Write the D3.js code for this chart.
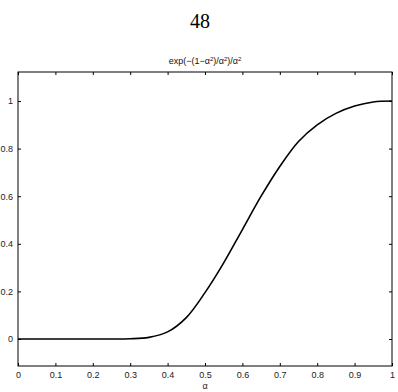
<!DOCTYPE html>
<html>
<head>
<meta charset="utf-8">
<script src="https://cdn.jsdelivr.net/npm/d3@7"></script>
<style>
  html, body { margin: 0; padding: 0; background: #fff; }
  svg { display: block; }
</style>
</head>
<body>
<svg id="chart" width="398" height="392"></svg>
<script>
// curve values
var alphaValues = [0, 0.05, 0.1, 0.15, 0.2, 0.25, 0.3, 0.35, 0.4, 0.45, 0.5, 0.55, 0.6, 0.65, 0.7, 0.75, 0.8, 0.85, 0.9, 0.95, 1];
var curveValues = [0, 0, 0, 0, 0, 0, 0.001, 0.007, 0.03, 0.09, 0.195, 0.32, 0.46, 0.6, 0.725, 0.83, 0.9, 0.948, 0.979, 0.996, 1];
var xTicks = [0, 0.1, 0.2, 0.3, 0.4, 0.5, 0.6, 0.7, 0.8, 0.9, 1];
var yTicks = [0, 0.2, 0.4, 0.6, 0.8, 1];

(function () {
    var svg = d3.select("#chart"),
        plotLeft = 18, plotRight = 392, plotTop = 72, plotBottom = 366;

    var x = d3.scaleLinear().domain([0, 1]).range([plotLeft, plotRight]);
    var y = d3.scaleLinear().domain([-0.1134, 1.1218]).range([plotBottom, plotTop]);

    var tickFont = "'Liberation Sans', Arial, sans-serif";
    var numFormat = function (d) { return d === 0 || d === 1 ? d3.format("d")(d) : d3.format(".1f")(d); };

    // page number
    svg.append("text")
        .attr("x", 200).attr("y", 28)
        .attr("text-anchor", "middle")
        .style("font-family", "'Liberation Serif', 'DejaVu Serif', serif")
        .style("font-size", "20px")
        .text("48");

    // title
    var title = svg.append("text")
        .attr("x", (plotLeft + plotRight) / 2).attr("y", 64)
        .attr("text-anchor", "middle")
        .style("font-family", tickFont)
        .style("font-size", "9px")
        .attr("fill", "#111");
    title.append("tspan").text("exp(\u2212(1\u2212\u03b1");
    title.append("tspan").attr("dy", -3.5).style("font-size", "6px").text("2");
    title.append("tspan").attr("dy", 3.5).text(")/\u03b1");
    title.append("tspan").attr("dy", -3.5).style("font-size", "6px").text("2");
    title.append("tspan").attr("dy", 3.5).text(")/\u03b1");
    title.append("tspan").attr("dy", -3.5).style("font-size", "6px").text("2");

    // axes: ticks inside on all four sides
    var tickLen = 3;
    var xBottom = d3.axisBottom(x).tickValues(xTicks).tickSize(-tickLen).tickPadding(6).tickFormat(numFormat);
    var xTop = d3.axisTop(x).tickValues(xTicks).tickSize(-tickLen).tickFormat("");
    var yLeft = d3.axisLeft(y).tickValues(yTicks).tickSize(-tickLen).tickPadding(5).tickFormat(numFormat);
    var yRight = d3.axisRight(y).tickValues(yTicks).tickSize(-tickLen).tickFormat("");

    function styleAxis(g) {
        g.select(".domain").remove();
        g.selectAll(".tick line").attr("stroke", "#000");
        g.selectAll(".tick text")
            .style("font-family", tickFont)
            .style("font-size", "9px")
            .attr("fill", "#222");
    }

    svg.append("g").attr("transform", "translate(0," + plotBottom + ")").call(xBottom).call(styleAxis);
    svg.append("g").attr("transform", "translate(0," + plotTop + ")").call(xTop).call(styleAxis);
    svg.append("g").attr("transform", "translate(" + plotLeft + ",0)").call(yLeft).call(styleAxis);
    svg.append("g").attr("transform", "translate(" + plotRight + ",0)").call(yRight).call(styleAxis);

    // curve
    var points = alphaValues.map(function (a, i) { return [a, curveValues[i]]; });
    var line = d3.line()
        .x(function (d) { return x(d[0]); })
        .y(function (d) { return y(d[1]); })
        .curve(d3.curveCatmullRom.alpha(0.5));

    svg.append("path")
        .datum(points)
        .attr("d", line)
        .attr("fill", "none")
        .attr("stroke", "#000")
        .attr("stroke-width", 1.6);

    // frame
    svg.append("rect")
        .attr("x", plotLeft).attr("y", plotTop)
        .attr("width", plotRight - plotLeft).attr("height", plotBottom - plotTop)
        .attr("fill", "none")
        .attr("stroke", "#000")
        .attr("stroke-width", 1);

    // x label
    svg.append("text")
        .attr("x", (plotLeft + plotRight) / 2).attr("y", 389)
        .attr("text-anchor", "middle")
        .style("font-family", tickFont)
        .style("font-size", "9px")
        .attr("fill", "#222")
        .text("\u03b1");
})();
</script>
</body>
</html>
